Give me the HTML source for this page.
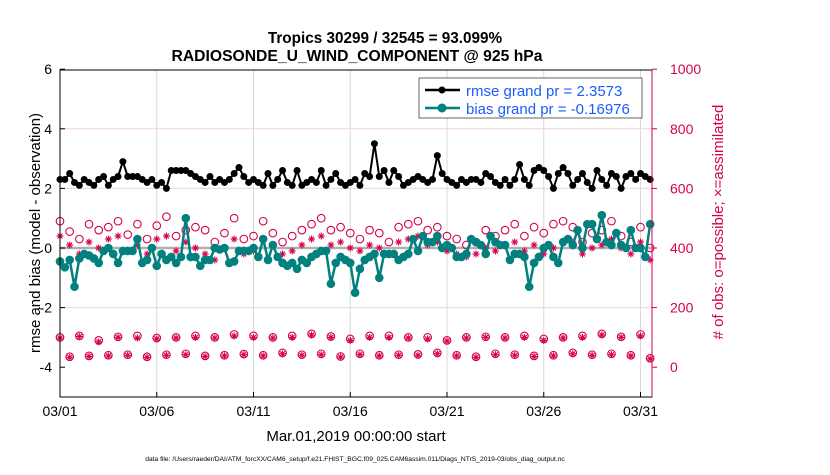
<!DOCTYPE html>
<html><head><meta charset="utf-8"><style>
body{margin:0;background:#fff;font-family:"Liberation Sans",sans-serif}
svg text{font-family:"Liberation Sans",sans-serif}
</style></head><body>
<svg id="c" width="830" height="470" xmlns="http://www.w3.org/2000/svg">
<rect width="830" height="470" fill="#fff"/>
<text x="385" y="43" text-anchor="middle" font-size="15.3" font-weight="bold">Tropics 30299 / 32545 = 93.099%</text>
<text x="357" y="61" text-anchor="middle" font-size="15.7" font-weight="bold">RADIOSONDE_U_WIND_COMPONENT @ 925 hPa</text>
<g id="grid"></g><g id="marks"></g><g id="axes"></g>
<text transform="translate(40,233) rotate(-90)" text-anchor="middle" font-size="15">rmse and bias (model - observation)</text>
<text transform="translate(723,222) rotate(-90)" text-anchor="middle" font-size="15" fill="#d6004f"># of obs: o=possible; ×=assimilated</text>
<text x="356" y="441" text-anchor="middle" font-size="15">Mar.01,2019 00:00:00 start</text>
<text x="355" y="461" text-anchor="middle" font-size="6.7">data file: /Users/raeder/DAI/ATM_forcXX/CAM6_setup/f.e21.FHIST_BGC.f09_025.CAM6assim.011/Diags_NTrS_2019-03/obs_diag_output.nc</text>
<g>
<rect x="419" y="78" width="223" height="40" fill="#fff" stroke="#000" stroke-width="0.6"/>
<line x1="425" y1="90" x2="460" y2="90" stroke="#000" stroke-width="2.5"/><circle cx="442" cy="90" r="3.5" fill="#000"/>
<text x="466" y="96" font-size="15" fill="#1a5cff">rmse grand pr = 2.3573</text>
<line x1="425" y1="108" x2="460" y2="108" stroke="#00807f" stroke-width="2.5"/><circle cx="442" cy="108" r="4.5" fill="#00807f"/>
<text x="466" y="114" font-size="15" fill="#1a5cff">bias grand pr = -0.16976</text>
</g>
</svg>
<script>
const xTickLabels=["03/01","03/06","03/11","03/16","03/21","03/26","03/31"];
const xTickDays=[1,6,11,16,21,26,31];
const yTicks=[-4,-2,0,2,4,6];
const y2Ticks=[0,200,400,600,800,1000];
const rmse=[2.3,2.3,2.5,2.2,2.1,2.3,2.2,2.1,2.3,2.4,2.1,2.3,2.4,2.9,2.4,2.4,2.4,2.3,2.2,2.3,2.1,2.2,2.0,2.6,2.6,2.6,2.6,2.5,2.4,2.3,2.2,2.4,2.2,2.3,2.2,2.3,2.5,2.7,2.4,2.2,2.3,
2.2,2.1,2.5,2.1,2.3,2.6,2.2,2.1,2.6,2.1,2.2,2.3,2.2,2.6,2.1,2.3,2.5,2.2,2.1,2.2,2.3,2.1,2.5,2.4,3.5,2.4,2.6,2.2,2.6,2.4,2.1,2.2,2.3,2.4,2.3,2.2,2.3,3.1,2.5,2.3,
2.2,2.1,2.3,2.2,2.3,2.3,2.2,2.5,2.4,2.2,2.1,2.3,2.1,2.3,2.8,2.3,2.1,2.6,2.7,2.6,2.4,2.0,2.5,2.7,2.5,2.1,2.3,2.5,2.2,2.0,2.6,2.3,2.1,2.5,2.4,2.0,2.4,2.5,2.3,2.5,2.4,2.3];
const bias=[-0.45,-0.65,-0.4,-1.3,-0.35,-0.2,-0.25,-0.35,-0.5,-0.1,0.0,-0.2,-0.5,-0.1,-0.1,-0.1,0.3,-0.5,-0.4,0.0,-0.6,-0.2,-0.4,-0.3,-0.5,-0.3,1.0,-0.3,-0.3,-0.6,-0.4,-0.4,0.0,-0.05,0.0,-0.5,-0.45,-0.1,-0.1,
-0.1,0.0,-0.3,0.3,-0.4,0.1,-0.3,-0.5,-0.6,-0.5,-0.7,-0.4,-0.5,-0.3,-0.2,-0.1,-0.1,-1.2,-0.5,-0.3,-0.4,-0.5,-1.5,-0.7,-0.4,-0.3,-0.2,-1.0,-0.2,-0.2,-0.2,-0.4,-0.3,-0.2,0.3,-0.1,0.4,0.2,0.2,0.4,0.0,0.1,
0.0,-0.3,-0.3,-0.2,0.3,0.2,0.1,-0.2,0.4,0.2,0.1,0.1,-0.4,-0.2,-0.2,-0.3,-1.3,-0.5,-0.3,0.0,0.1,-0.3,-0.5,0.2,0.3,0.1,0.6,0.0,0.8,0.8,0.3,1.1,0.2,0.1,0.5,0.1,0.0,0.6,0.0,0.0,-0.3,0.8];
const possHigh=[490,455,430,480,460,470,490,445,480,430,475,505,440,460,470,460,420,450,500,430,440,490,450,420,440,460,480,500,460,470,450,430,460,450,420,470,480,490,460,470,440,430,410,420,460,440,460,480,440,470,450,480,490,470,420,450,460,490,440,420,470,400];
const assimHigh=[440,410,380,420,400,430,440,390,410,380,430,440,390,420,400,380,360,400,430,380,390,430,410,380,390,410,430,440,410,420,400,390,410,400,380,420,430,440,410,420,390,380,370,380,400,390,410,420,390,410,380,400,420,420,380,400,410,430,400,380,420,360];
const possLow=[100,35,105,38,90,40,102,42,105,35,98,42,100,45,105,38,100,40,110,44,105,40,100,48,105,42,112,45,103,36,95,45,105,40,105,42,100,43,100,48,90,40,100,35,102,45,100,42,105,38,95,40,100,48,105,42,112,45,102,40,110,30];
const assimLow=[98,33,103,36,85,38,100,40,98,33,95,40,98,42,100,36,98,38,105,42,100,38,98,45,100,40,108,42,100,34,90,42,100,38,100,40,98,40,95,45,88,38,98,33,100,42,98,40,100,36,90,38,98,45,100,40,108,42,100,38,105,28];

const L=60,R=652,T=70,B=397;
const sx=d=>L+(d-1)*19.35;
const sy=v=>248-v*29.8;
const sy2=n=>sy(n/100-4);
const NS="http://www.w3.org/2000/svg";
function mk(tag,attrs,parent){const e=document.createElementNS(NS,tag);for(const k in attrs)e.setAttribute(k,attrs[k]);parent.appendChild(e);return e;}
const g=document.getElementById('grid'),m=document.getElementById('marks'),a=document.getElementById('axes');
xTickDays.forEach((d,i)=>{
 const gl=mk('line',{x1:sx(d),x2:sx(d),y1:T,y2:B,stroke:'#d8d8d8','stroke-width':1},g);
 
 const t=mk('text',{x:sx(d),y:B+19,'text-anchor':'middle','font-size':14},a);t.textContent=xTickLabels[i];
 
 mk('line',{x1:sx(d),x2:sx(d),y1:B,y2:B-5,stroke:'#000'},a);
});
y2Ticks.forEach(n=>{
 if(n>0&&n<1000){const gl=mk('line',{x1:L,x2:R,y1:sy2(n),y2:sy2(n),stroke:'#f0d0dc','stroke-width':1},g);
 }
 const t=mk('text',{x:R+18,y:sy2(n)+5,'font-size':14,fill:'#d6004f'},a);t.textContent=n;
 
 mk('line',{x1:R,x2:R+5,y1:sy2(n),y2:sy2(n),stroke:'#d6004f'},a);
});
yTicks.forEach(v=>{
 const t=mk('text',{x:L-8,y:sy(v)+5,'text-anchor':'end','font-size':14},a);t.textContent=v;
 
 mk('line',{x1:L,x2:L+5,y1:sy(v),y2:sy(v),stroke:'#000'},a);
});
const zl=mk('line',{x1:L,x2:R,y1:sy(0),y2:sy(0),stroke:'#b0b0b0','stroke-width':2.5},g);

const ax=mk('rect',{x:L,y:T,width:R-L,height:B-T,fill:'none',stroke:'#000','stroke-width':1},a);

const ax2=mk('line',{x1:R,x2:R,y1:T,y2:B,stroke:'#d6004f','stroke-width':1},a);


function star(x,y,p){const s=3.5;const gg=mk('g',{stroke:'#d6004f','stroke-width':1.1},p);
 mk('line',{x1:x-s,x2:x+s,y1:y,y2:y},gg);mk('line',{x1:x,x2:x,y1:y-s,y2:y+s},gg);
 mk('line',{x1:x-s*.7,x2:x+s*.7,y1:y-s*.7,y2:y+s*.7},gg);mk('line',{x1:x-s*.7,x2:x+s*.7,y1:y+s*.7,y2:y-s*.7},gg);return gg;}
function counts(poss,assim,nm){
 poss.forEach((n,i)=>{const d=1+i*0.5;
  const c=mk('circle',{cx:sx(d),cy:sy2(n),r:3.8,fill:'none',stroke:'#d6004f','stroke-width':1.1},m);
  });
 assim.forEach((n,i)=>{const d=1+i*0.5;const s=star(sx(d),sy2(n),m);
  });
}
counts(possHigh,assimHigh,'level-high');
counts(possLow,assimLow,'level-low');
function series(vals,color,w,r,nm){
 const pts=vals.map((v,i)=>sx(1+i*0.25)+','+sy(v)).join(' ');
 const pl=mk('polyline',{points:pts,fill:'none',stroke:color,'stroke-width':w,'stroke-linejoin':'round'},m);
 
 vals.forEach((v,i)=>{const c=mk('circle',{cx:sx(1+i*0.25),cy:sy(v),r:r,fill:color},m);
  });
}
series(bias,'#00807f',2.5,4.3,'bias');
series(rmse,'#000',2,3.5,'rmse');
</script>
</body></html>
